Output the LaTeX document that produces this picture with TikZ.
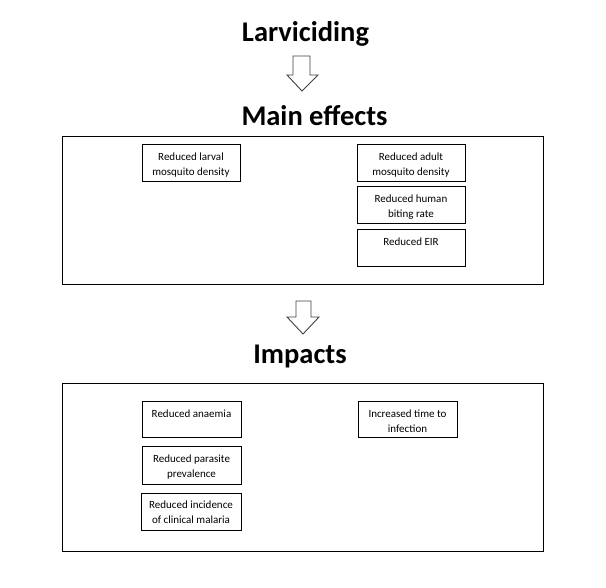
\documentclass[tikz,border=0pt]{standalone}
\usepackage{fontspec}
\setmainfont{Carlito}
\begin{document}
\begin{tikzpicture}[x=1pt,y=-1pt,
  title/.style={font=\fontsize{28.5}{32}\selectfont\bfseries, anchor=base, inner sep=0pt},
  frame/.style={draw, line width=1pt},
  card/.style={draw, line width=1pt},
  cardtext/.style={font=\fontsize{11}{15}\selectfont, align=center, anchor=north, inner sep=0pt},
  blockarrow/.style={draw=black!75, line width=0.9pt, fill=white}]
\useasboundingbox (0,0) rectangle (606,588);
% titles
\node[title] (t1) at (305.5,42) {Larviciding};
\node[title] (t2) at (314.5,126) {Main effects};
\node[title] (t3) at (300,364) {Impacts};
% arrows
\draw[blockarrow] (293,56) -- (310,56) -- (310,75) -- (318,75) -- (302,91) -- (287,75) -- (293,75) -- cycle;
\draw[blockarrow] (296,301) -- (311,301) -- (311,317) -- (319,317) -- (303,334) -- (287,317) -- (296,317) -- cycle;
% frames
\draw[frame] (62,137) rectangle (543,285);
\draw[frame] (62,384) rectangle (543,551);
% main effects
\draw[card] (142,145) rectangle (240,182);
\node[cardtext] (a) at (191,152.5) {Reduced larval\\mosquito density};
\draw[card] (357,145) rectangle (465,182);
\node[cardtext] (b) at (411,152.5) {Reduced adult\\mosquito density};
\draw[card] (357,187) rectangle (465,224);
\node[cardtext] (c) at (411,194.5) {Reduced human\\biting rate};
\draw[card] (357,230) rectangle (465,267);
\node[cardtext] (d) at (411,237.5) {Reduced EIR};
% impacts
\draw[card] (142,402) rectangle (241,438);
\node[cardtext] (e) at (191.5,410) {Reduced anaemia};
\draw[card] (142,447) rectangle (241,484);
\node[cardtext] (f) at (191.5,454.5) {Reduced parasite\\prevalence};
\draw[card] (141,493) rectangle (241,530);
\node[cardtext] (g) at (191,500.5) {Reduced incidence\\of clinical malaria};
\draw[card] (358,402) rectangle (457,438);
\node[cardtext] (h) at (407.5,409.5) {Increased time to\\infection};
\end{tikzpicture}
\end{document}
